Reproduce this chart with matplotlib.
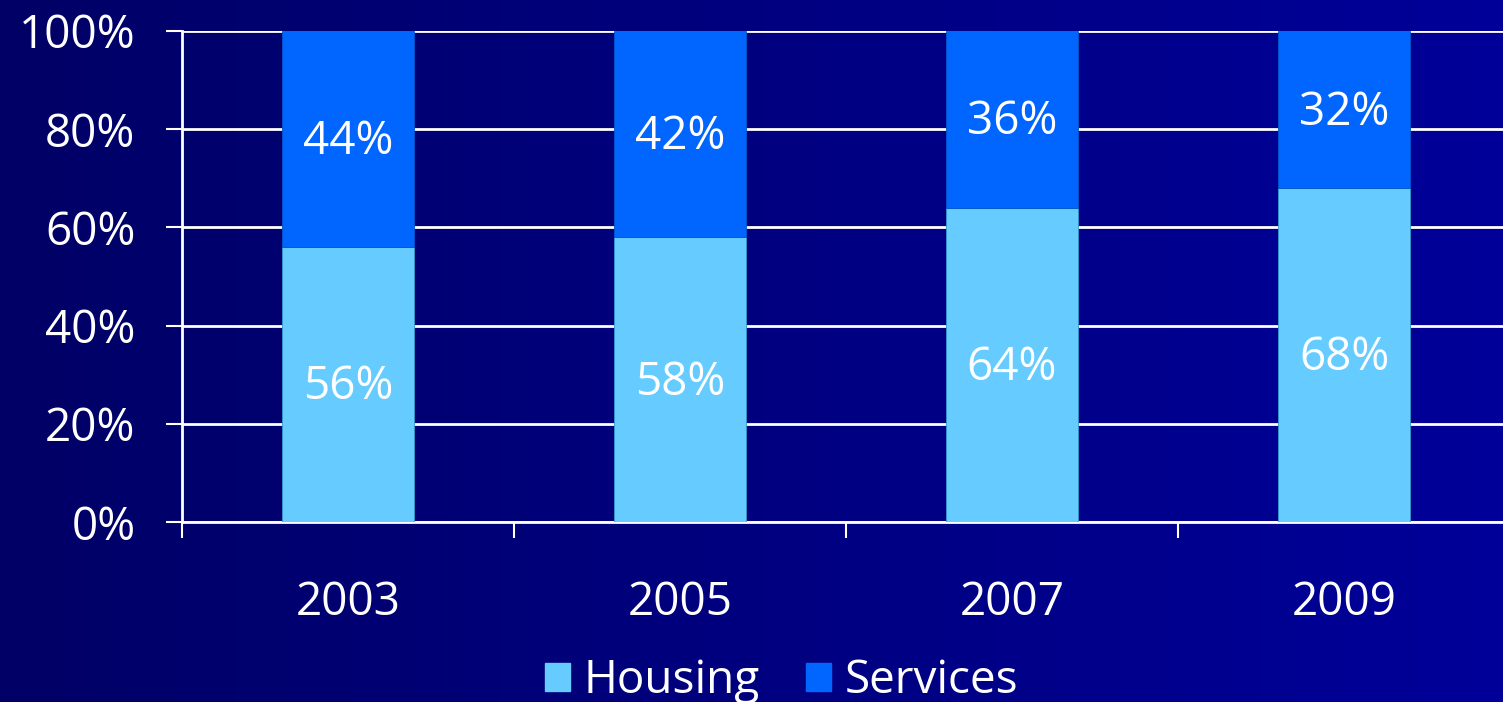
import matplotlib.pyplot as plt
import numpy as np
from matplotlib.patches import Patch
from matplotlib.colors import LinearSegmentedColormap

years = ['2003', '2005', '2007', '2009']
housing = [56, 58, 64, 68]
services = [44, 42, 36, 32]

HOUSING_C = '#66ccff'
SERVICES_C = '#0066ff'

plt.rcParams['font.family'] = ['Open Sans', 'DejaVu Sans']

fig = plt.figure(figsize=(15.03, 7.02), dpi=100)

# gradient background, dark navy on the left to brighter navy on the right
bg = fig.add_axes([0, 0, 1, 1], zorder=-10)
grad = np.linspace(0, 1, 256).reshape(1, -1)
cmap = LinearSegmentedColormap.from_list('bg', ['#000066', '#000099'])
bg.imshow(grad, aspect='auto', cmap=cmap, extent=[0, 1, 0, 1])
bg.axis('off')

ax = fig.add_axes([182 / 1503, 1 - 522 / 702, (1510 - 182) / 1503, 491 / 702])
ax.patch.set_alpha(0)

x = np.arange(len(years))
ax.bar(x, housing, width=0.4, color=HOUSING_C, edgecolor='#3399cc', linewidth=0.6, zorder=3)
ax.bar(x, services, width=0.4, bottom=housing, color=SERVICES_C, edgecolor='#0055cc',
       linewidth=0.6, zorder=3)

for i in range(len(years)):
    ax.text(x[i], housing[i] / 2 - 0.6, f'{housing[i]}%', ha='center', va='center',
            color='white', fontsize=33, zorder=4)
    ax.text(x[i], housing[i] + services[i] / 2 - 0.6, f'{services[i]}%', ha='center',
            va='center', color='white', fontsize=33, zorder=4)

ax.set_xlim(-0.5, 3.5)
ax.set_ylim(0, 100)
ax.set_yticks(range(0, 101, 20))
ax.set_yticklabels([f'{v}%' for v in range(0, 101, 20)])
ax.yaxis.grid(True, color='white', linewidth=2, zorder=1)
ax.set_axisbelow(True)

ax.set_xticks(x)
ax.set_xticklabels(years)
ax.set_xticks(np.arange(-0.5, 3.6, 1), minor=True)
ax.tick_params(axis='x', which='major', length=0, pad=42, labelsize=33, colors='white')
ax.tick_params(axis='x', which='minor', length=11.5, width=1.5, color='white', direction='out')
ax.tick_params(axis='y', length=11.5, width=1.5, pad=22, labelsize=33, colors='white')

for s in ['top', 'right']:
    ax.spines[s].set_visible(False)
for s in ['left', 'bottom']:
    ax.spines[s].set_color('white')
    ax.spines[s].set_linewidth(2)

handles = [Patch(color=HOUSING_C, label='Housing'), Patch(color=SERVICES_C, label='Services')]
fig.legend(handles=handles, loc='center', bbox_to_anchor=(0.52, 0.03), ncol=2, frameon=False,
           fontsize=33, labelcolor='white', handlelength=0.55, handleheight=0.55,
           handletextpad=0.3, columnspacing=1.0)

fig.savefig('out.png', dpi=100)
